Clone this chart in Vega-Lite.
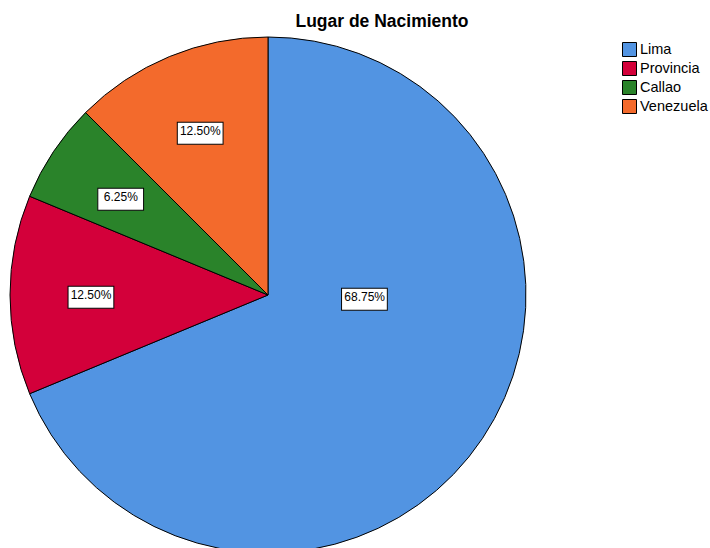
{
  "$schema": "https://vega.github.io/schema/vega-lite/v6.json",
  "width": 516,
  "height": 516,
  "autosize": {"type": "none"},
  "padding": {"left": 10, "top": 37, "right": 184, "bottom": 0},
  "background": "white",
  "title": {"text": "Lugar de Nacimiento", "font": "Liberation Sans", "fontSize": 17.5, "fontWeight": "bold", "color": "black", "dx": 114, "offset": 5},
  "data": {"values": [
    {"lugar": "Lima", "prop": 0.6875, "orden": 1},
    {"lugar": "Provincia", "prop": 0.125, "orden": 2},
    {"lugar": "Callao", "prop": 0.0625, "orden": 3},
    {"lugar": "Venezuela", "prop": 0.125, "orden": 4}
  ]},
  "encoding": {
    "theta": {"field": "prop", "type": "quantitative", "stack": true},
    "order": {"field": "orden", "type": "quantitative"}
  },
  "layer": [
    {
      "mark": {"type": "arc", "stroke": "black", "strokeWidth": 1},
      "encoding": {
        "color": {
          "field": "lugar", "type": "nominal",
          "scale": {"domain": ["Lima", "Provincia", "Callao", "Venezuela"], "range": ["#5294E2", "#D3003A", "#2A832A", "#F36A2C"]},
          "legend": {"orient": "none", "legendX": 612, "legendY": 5, "title": null, "symbolType": "square", "symbolSize": 196, "symbolStrokeColor": "black", "symbolStrokeWidth": 1, "symbolOpacity": 1, "labelFont": "Liberation Sans", "labelFontSize": 14.5, "labelColor": "black", "rowPadding": 0, "labelOffset": 3}
        }
      }
    },
    {
      "mark": {"type": "text", "text": "▬", "font": "DejaVu Sans", "fontSize": 60, "fill": "white", "stroke": "black", "strokeWidth": 1, "baseline": "middle", "align": "center"},
      "encoding": {
        "radius": {"condition": {"test": "datum.lugar === 'Provincia'", "value": 186}, "value": 177},
        "opacity": {"condition": {"test": "datum.lugar === 'Lima'", "value": 0}, "value": 1}
      }
    },
    {
      "mark": {"type": "text", "font": "Liberation Sans", "fontSize": 12, "color": "black", "baseline": "middle", "align": "center"},
      "encoding": {
        "text": {"field": "prop", "type": "quantitative", "format": ".2%"},
        "radius": {"condition": {"test": "datum.lugar === 'Provincia'", "value": 186}, "value": 177},
        "opacity": {"condition": {"test": "datum.lugar === 'Lima'", "value": 0}, "value": 1}
      }
    },
    {
      "transform": [{"filter": "datum.lugar === 'Lima'"}],
      "mark": {"type": "text", "text": "▬", "font": "DejaVu Sans", "fontSize": 60, "fill": "white", "stroke": "black", "strokeWidth": 1, "baseline": "middle", "align": "center", "radius": 97, "dx": 16, "dy": -52}
    },
    {
      "transform": [{"filter": "datum.lugar === 'Lima'"}],
      "mark": {"type": "text", "font": "Liberation Sans", "fontSize": 12, "color": "black", "baseline": "middle", "align": "center", "radius": 97, "dx": 16, "dy": -52},
      "encoding": {
        "text": {"field": "prop", "type": "quantitative", "format": ".2%"}
      }
    }
  ]
}
